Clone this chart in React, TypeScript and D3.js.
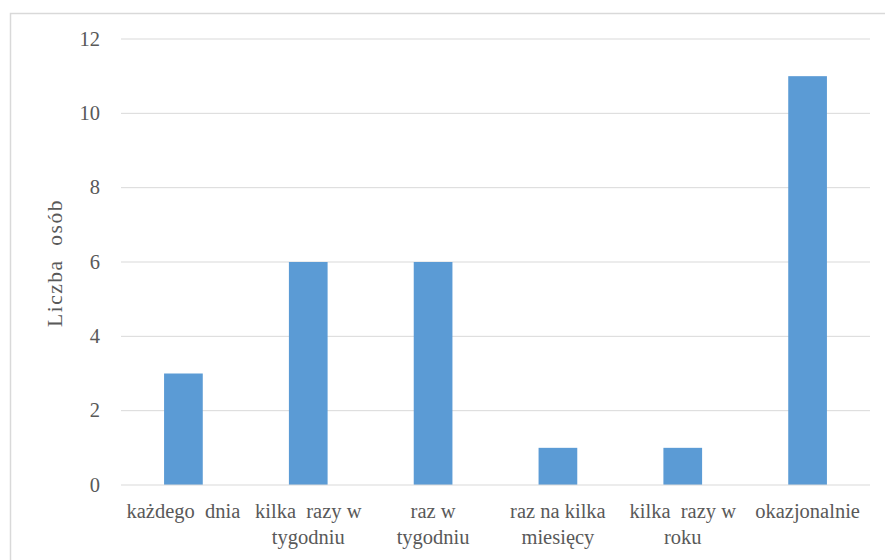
import React from "react";
import * as d3 from "d3";

const categories: string[][] = [
  ["każdego  dnia"],
  ["kilka  razy w", "tygodniu"],
  ["raz w", "tygodniu"],
  ["raz na kilka", "miesięcy"],
  ["kilka  razy w", "roku"],
  ["okazjonalnie"],
];
const values: number[] = [3, 6, 6, 1, 1, 11];
const yTicks: number[] = [0, 2, 4, 6, 8, 10, 12];
const yTitle = "Liczba  osób";

const W = 885;
const H = 560;
const plot = { left: 121, right: 870, top: 39, bottom: 485 };

export default function App() {
  const x = d3
    .scaleBand<number>()
    .domain(values.map((_, i) => i))
    .range([plot.left, plot.right])
    .paddingInner(0.69)
    .paddingOuter(0.345);
  const y = d3.scaleLinear().domain([0, 12]).range([plot.bottom, plot.top]);
  const font = "'Liberation Serif', 'Times New Roman', serif";
  const fs = 20.5;
  return (
    <svg
      width={W}
      height={H}
      style={{ position: "absolute", left: 0, top: 0, display: "block", background: "#fff" }}
    >
      <rect x={10.5} y={13.5} width={W} height={H} fill="none" stroke="#D9D9D9" strokeWidth={1.5} />
      {yTicks.map((t) => (
        <g key={t}>
          {t !== 0 && (
            <line x1={plot.left} x2={plot.right} y1={y(t)} y2={y(t)} stroke="#D9D9D9" strokeWidth={1} />
          )}
          <text
            x={100}
            y={y(t)}
            dy="0.33em"
            textAnchor="end"
            fontFamily={font}
            fontSize={fs}
            fill="#595959"
          >
            {t}
          </text>
        </g>
      ))}
      {values.map((v, i) => (
        <rect key={i} x={x(i)} y={y(v)} width={x.bandwidth()} height={y(0) - y(v)} fill="#5B9BD5" />
      ))}
      <line x1={plot.left} x2={plot.right} y1={y(0)} y2={y(0)} stroke="#D9D9D9" strokeWidth={1.2} />
      {categories.map((lines, i) => {
        const cx = (x(i) as number) + x.bandwidth() / 2;
        return (
          <text
            key={i}
            x={cx}
            y={518}
            textAnchor="middle"
            fontFamily={font}
            fontSize={fs}
            fill="#595959"
            style={{ whiteSpace: "pre" }}
          >
            {lines.map((l, j) => (
              <tspan key={j} x={cx} dy={j === 0 ? 0 : 26}>
                {l}
              </tspan>
            ))}
          </text>
        );
      })}
      <text
        transform={`translate(${62},${263}) rotate(-90)`}
        textAnchor="middle"
        fontFamily={font}
        fontSize={21.5}
        letterSpacing={1.5}
        fill="#595959"
        style={{ whiteSpace: "pre" }}
      >
        {yTitle}
      </text>
    </svg>
  );
}
